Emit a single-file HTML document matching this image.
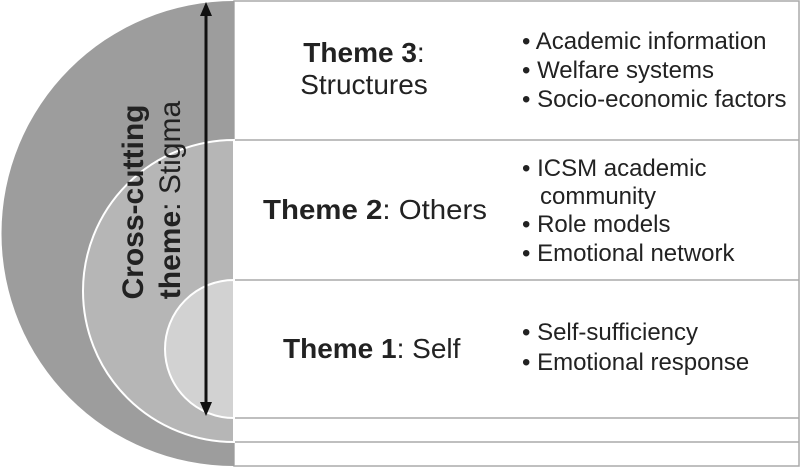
<!DOCTYPE html>
<html><head><meta charset="utf-8"><style>body{margin:0;background:#fff}svg{display:block}</style></head><body>
<svg width="800" height="467" viewBox="0 0 800 467" xmlns="http://www.w3.org/2000/svg" font-family="Liberation Sans, sans-serif">
<rect x="234" y="1" width="565" height="465" fill="#fff" stroke="#aaa" stroke-width="1.5"/>
<line x1="234" y1="140" x2="799" y2="140" stroke="#aaa" stroke-width="1.5"/>
<line x1="234" y1="280" x2="799" y2="280" stroke="#aaa" stroke-width="1.5"/>
<line x1="234" y1="418" x2="799" y2="418" stroke="#aaa" stroke-width="1.5"/>
<line x1="234" y1="442" x2="799" y2="442" stroke="#aaa" stroke-width="1.5"/>
<path d="M234 1 A232 232 0 0 0 234 466 Z" fill="#9d9d9d"/>
<path d="M234 140 A151 151 0 0 0 234 442 Z" fill="#b6b6b6" stroke="#fff" stroke-width="2"/>
<path d="M234 280 A69 69 0 0 0 234 418 Z" fill="#d2d2d2" stroke="#fff" stroke-width="2"/>
<line x1="206" y1="12" x2="206" y2="406" stroke="#111" stroke-width="3"/>
<polygon points="206,2 200,16 212,16" fill="#111"/>
<polygon points="206,416 200,402 212,402" fill="#111"/>
<g transform="translate(143,202) rotate(-90)"><text x="0" y="0" text-anchor="middle" font-size="30" font-weight="bold" fill="#222">Cross-cutting</text></g>
<g transform="translate(180,200) rotate(-90)"><text x="0" y="0" text-anchor="middle" font-size="30" fill="#222"><tspan font-weight="bold">theme</tspan>: Stigma</text></g>
<g fill="#222" font-size="28">
<text x="364" y="62" text-anchor="middle"><tspan font-weight="bold">Theme 3</tspan>:</text>
<text x="364" y="94" text-anchor="middle">Structures</text>
<text x="263" y="219" textLength="224" lengthAdjust="spacingAndGlyphs"><tspan font-weight="bold">Theme 2</tspan>: Others</text>
<text x="283" y="358"><tspan font-weight="bold">Theme 1</tspan>: Self</text>
</g>
<g fill="#222" font-size="24">
<text x="522" y="49">• Academic information</text>
<text x="522" y="78">• Welfare systems</text>
<text x="522" y="107">• Socio-economic factors</text>
<text x="522" y="176">• ICSM academic</text>
<text x="540" y="204">community</text>
<text x="522" y="232">• Role models</text>
<text x="522" y="261">• Emotional network</text>
<text x="522" y="340">• Self-sufficiency</text>
<text x="522" y="370">• Emotional response</text>
</g>
</svg>
</body></html>
